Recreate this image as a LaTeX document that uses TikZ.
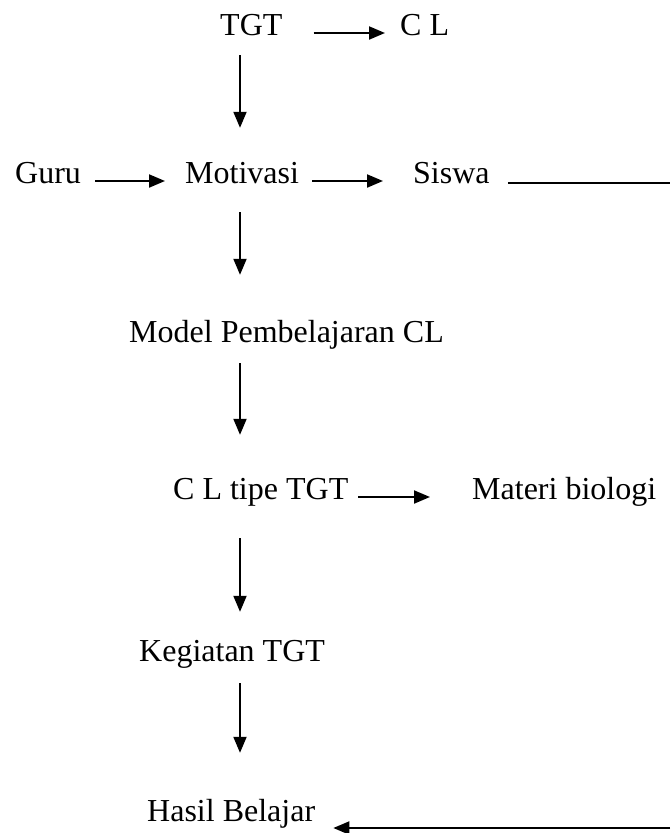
\documentclass[tikz,border=0pt]{standalone}
\usepackage{fontspec}
\setmainfont{Liberation Serif}
\usepackage{tikz}
\usetikzlibrary{arrows.meta, positioning}

\begin{document}
\begin{tikzpicture}[
  x=1pt, y=-1pt,
  label/.style={anchor=base west, inner sep=0pt, text height=23pt, text depth=7pt,
                font=\fontsize{32}{38}\selectfont},
  arr/.style={-{Triangle[length=16pt,width=13pt]}, line width=2pt},
  plain/.style={line width=2pt}
]
  \useasboundingbox (0,0) rectangle (670,833);
  \coordinate (col) at (240,0);

  \node[label] (tgt)      at (220,35)  {TGT};
  \node[label] (cl)       at (400,35)  {C L};
  \node[label] (guru)     at (15,183)  {Guru};
  \node[label] (motivasi) at (185,183) {Motivasi};
  \node[label] (siswa)    at (413,183) {Siswa};
  \node[label] (model)    at (129,342) {Model Pembelajaran CL};
  \node[label] (cltipe)   at (173,499) {C L tipe TGT};
  \node[label] (materi)   at (472,499) {Materi biologi};
  \node[label] (kegiatan) at (139,661) {Kegiatan TGT};
  \node[label] (hasil)    at (147,821) {Hasil Belajar};

  % vertical flow
  \foreach \a/\b/\s/\e in {tgt/motivasi/13/32, motivasi/model/22/44,
      model/cltipe/14/41, cltipe/kegiatan/32/26, kegiatan/hasil/15/45}
    \draw[arr, shorten <=\s pt, shorten >=\e pt] (\a.south -| col) -- (\b.north -| col);

  % horizontal arrows
  \foreach \a/\b/\s/\e in {tgt/cl/31/15, guru/motivasi/14/20,
      motivasi/siswa/13/30, cltipe/materi/10/42}
    \draw[arr, shorten <=\s pt, shorten >=\e pt]
      ([yshift=2pt]\a.base east) -- ([yshift=2pt]\b.base west);

  % feedback line along the right edge
  \coordinate (ujungA) at (670,183);
  \coordinate (ujungB) at (670,828);
  \draw[plain, shorten <=18pt] (siswa.base east) -- (ujungA);
  \draw[arr, shorten >=18pt] (ujungB) -- (ujungB -| hasil.east);
\end{tikzpicture}
\end{document}
